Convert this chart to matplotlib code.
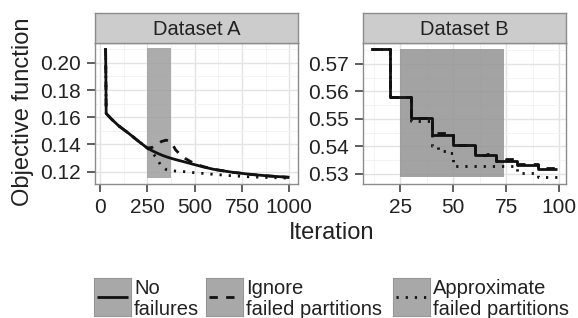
import matplotlib
matplotlib.use("Agg")
import matplotlib.pyplot as plt
from matplotlib.patches import Rectangle
from matplotlib.ticker import MultipleLocator

plt.rcParams['font.family'] = ['Liberation Sans', 'DejaVu Sans']

# ── data: Dataset A (smooth curves) ─────────────────────────────────────────
iter_a = [30, 33, 60, 100, 150, 200, 250, 275, 300, 325, 350, 375, 400, 425,
          450, 500, 550, 600, 700, 800, 900, 1000]
no_fail_a = [0.2106, 0.1628, 0.1588, 0.1536, 0.1484, 0.1428, 0.1374, 0.1355,
             0.1338, 0.1323, 0.1310, 0.1299, 0.1289, 0.1280, 0.1271, 0.1252,
             0.1234, 0.1218, 0.1196, 0.1180, 0.1168, 0.1159]
ignore_a = [0.2106, 0.1628, 0.1588, 0.1536, 0.1484, 0.1428, 0.1374, 0.1378,
            0.1400, 0.1422, 0.1432, 0.1420, 0.1360, 0.1325, 0.1298, 0.1258,
            0.1236, 0.1218, 0.1196, 0.1180, 0.1168, 0.1159]
approx_a = [0.2106, 0.1628, 0.1588, 0.1536, 0.1484, 0.1428, 0.1374, 0.1345,
            0.1297, 0.1240, 0.1216, 0.1208, 0.1205, 0.1203, 0.1200, 0.1193,
            0.1187, 0.1181, 0.1170, 0.1162, 0.1157, 0.1153]
shade_a = [250, 375]

# ── data: Dataset B (step curves) ───────────────────────────────────────────
iter_b_nf = [11, 20, 30, 40, 50, 60, 70, 80, 90, 99]
no_fail_b = [0.5755, 0.5579, 0.5503, 0.5442, 0.5405, 0.5367, 0.5345, 0.5332,
             0.5318, 0.5318]
iter_b_ig = [11, 20, 30, 40, 50, 60, 66, 70, 75, 80, 90, 99]
ignore_b = [0.5755, 0.5579, 0.5503, 0.5448, 0.5405, 0.5367, 0.5372, 0.5345,
            0.5355, 0.5334, 0.5320, 0.5320]
iter_b_ap = [11, 20, 30, 40, 43, 47, 50, 80, 90, 99]
approx_b = [0.5755, 0.5579, 0.5492, 0.5400, 0.5382, 0.5376, 0.5330, 0.5302,
            0.5288, 0.5288]
shade_b = [25, 74]

legend_labels = [('No', 'failures'),
                 ('Ignore', 'failed partitions'),
                 ('Approximate', 'failed partitions')]

W, H = 578, 318
fig = plt.figure(figsize=(W / 100, H / 100), dpi=100)


def px(x0, y0, x1, y1):
    return [x0 / W, 1 - y1 / H, (x1 - x0) / W, (y1 - y0) / H]


INK = '#222222'
EDGE = '#8C8C8C'


def style_panel(ax, title, strip_box):
    ax.set_facecolor('white')
    for s in ax.spines.values():
        s.set_color(EDGE)
        s.set_linewidth(1.0)
    ax.grid(True, which='major', color='#E3E3E3', lw=1.0, zorder=0)
    ax.grid(True, which='minor', color='#F1F1F1', lw=0.6, zorder=0)
    ax.set_axisbelow(True)
    ax.tick_params(which='major', length=5.5, width=1.1, color='#333333',
                   labelsize=15, labelcolor=INK)
    ax.tick_params(axis='x', which='major', pad=4.5)
    ax.tick_params(axis='y', which='major', pad=5)
    ax.tick_params(which='minor', length=0)
    st = fig.add_axes(px(*strip_box))
    st.set_facecolor('#CCCCCC')
    st.set_xticks([])
    st.set_yticks([])
    for s in st.spines.values():
        s.set_color(EDGE)
        s.set_linewidth(1.0)
    st.text(0.5, 0.46, title, ha='center', va='center', fontsize=14.5,
            color=INK, transform=st.transAxes)


line_kw = dict(color='#111111', lw=2.0)
styles = [dict(ls='-', solid_capstyle='butt'),
          dict(ls=(0, (3.0, 3.0))),
          dict(ls=(0, (0.8, 2.5)))]

# ── panel A ─────────────────────────────────────────────────────────────────
ax_a = fig.add_axes(px(95, 43, 298, 184))
lo, hi = min(approx_a), max(no_fail_a)
ax_a.add_patch(Rectangle((shade_a[0], lo), shade_a[1] - shade_a[0], hi - lo,
                         fc='#9E9E9E', ec='none', alpha=0.85, zorder=1))
ax_a.plot(iter_a, approx_a, **line_kw, **styles[2], zorder=3)
ax_a.plot(iter_a, ignore_a, **line_kw, **styles[1], zorder=3)
ax_a.plot(iter_a, no_fail_a, **line_kw, **styles[0], zorder=4)
ax_a.set_xlim(-26, 1046)
ax_a.set_ylim(0.1110, 0.2145)
ax_a.set_xticks([0, 250, 500, 750, 1000])
ax_a.xaxis.set_minor_locator(MultipleLocator(125))
ax_a.set_yticks([0.12, 0.14, 0.16, 0.18, 0.20])
ax_a.set_yticklabels(['0.12', '0.14', '0.16', '0.18', '0.20'])
ax_a.yaxis.set_minor_locator(MultipleLocator(0.01))
style_panel(ax_a, 'Dataset A', (95, 13, 298, 43))

# ── panel B ─────────────────────────────────────────────────────────────────
ax_b = fig.add_axes(px(363, 43, 566, 184))
lo, hi = min(approx_b), max(no_fail_b)
ax_b.add_patch(Rectangle((shade_b[0], lo), shade_b[1] - shade_b[0], hi - lo,
                         fc='#969696', ec='none', alpha=0.88, zorder=1))
ax_b.step(iter_b_ap, approx_b, where='post', **line_kw, **styles[2], zorder=3)
ax_b.step(iter_b_ig, ignore_b, where='post', **line_kw, **styles[1], zorder=3)
ax_b.step(iter_b_nf, no_fail_b, where='post', **line_kw, **styles[0], zorder=4)
ax_b.set_xlim(7.45, 103.1)
ax_b.set_ylim(0.5263, 0.5776)
ax_b.set_xticks([25, 50, 75, 100])
ax_b.xaxis.set_minor_locator(MultipleLocator(12.5))
ax_b.set_yticks([0.53, 0.54, 0.55, 0.56, 0.57])
ax_b.set_yticklabels(['0.53', '0.54', '0.55', '0.56', '0.57'])
ax_b.yaxis.set_minor_locator(MultipleLocator(0.005))
style_panel(ax_b, 'Dataset B', (363, 13, 566, 43))

# ── axis titles ─────────────────────────────────────────────────────────────
fig.text(332 / W, 1 - 239 / H, 'Iteration', ha='center', va='baseline',
         fontsize=17, color=INK)
fig.text(23 / W, 1 - 111.5 / H, 'Objective function', ha='center',
         va='center', rotation=90, fontsize=17, color=INK)

# ── legend (drawn by hand: grey key boxes, two-line labels) ─────────────────
key_x = [94, 206, 393]
for kx, st_kw, (l1, l2) in zip(key_x, styles, legend_labels):
    kax = fig.add_axes(px(kx, 278, kx + 37, 316))
    kax.set_facecolor('#A8A8A8')
    kax.set_xticks([])
    kax.set_yticks([])
    for s in kax.spines.values():
        s.set_color('#979797')
        s.set_linewidth(0.8)
    kax.set_xlim(0, 1)
    kax.set_ylim(0, 1)
    kax.plot([0.08, 0.92], [0.5, 0.5], **line_kw, **st_kw)
    fig.text((kx + 40) / W, 1 - 293.5 / H, l1, ha='left', va='baseline',
             fontsize=14.5, color=INK)
    fig.text((kx + 40) / W, 1 - 315 / H, l2, ha='left', va='baseline',
             fontsize=14.5, color=INK)

fig.savefig('out.png', dpi=100)
